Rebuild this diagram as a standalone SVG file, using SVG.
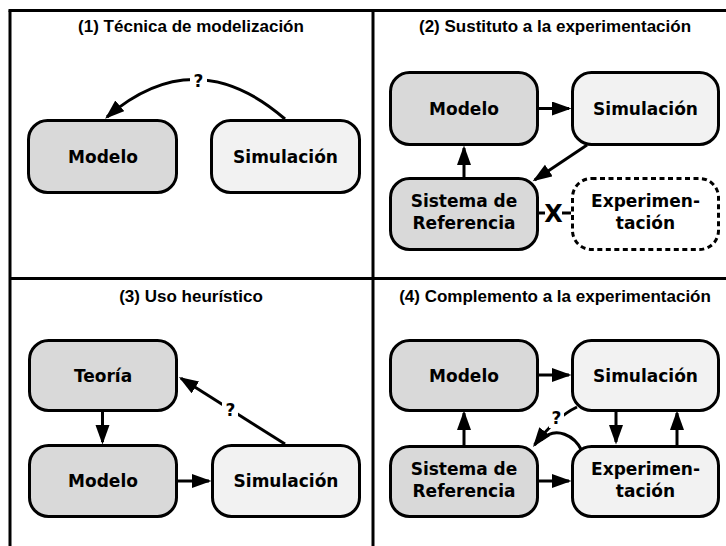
<svg xmlns="http://www.w3.org/2000/svg" width="726" height="546" viewBox="0 0 726 546">
<style>
.frame{stroke:#000;stroke-width:3;fill:none}
.title{font-family:"Liberation Sans",Arial,sans-serif;font-weight:bold;font-size:17px;text-anchor:middle;fill:#000}
.dark{fill:#d9d9d9;stroke:#000;stroke-width:3}
.light{fill:#f2f2f2;stroke:#000;stroke-width:3}
.dashed{fill:#fff;stroke:#000;stroke-width:3;stroke-dasharray:5 3.5}
.lbl{font-family:"DejaVu Sans",Verdana,sans-serif;font-weight:bold;font-size:17px;text-anchor:middle;fill:#000}
.q{font-family:"DejaVu Sans",Verdana,sans-serif;font-weight:bold;font-size:17px;text-anchor:middle;fill:#000}
.x{font-family:"DejaVu Sans",Verdana,sans-serif;font-weight:bold;font-size:24px;text-anchor:middle;fill:#000}
.c{stroke:#000;stroke-width:3;fill:none}
.ca{stroke:#000;stroke-width:3;fill:none;marker-end:url(#ah)}
.bg{fill:#fff;stroke:none}
</style>
<defs>
<marker id="ah" markerUnits="userSpaceOnUse" markerWidth="22" markerHeight="16" refX="17" refY="7" orient="auto">
<path d="M0,0 L19.5,7 L0,14 z" fill="#000"/>
</marker>
</defs>
<rect width="726" height="546" fill="#fff"/>
<g id="frame">
<line class="frame" x1="8.5" y1="10.5" x2="726" y2="10.5"/>
<line class="frame" x1="10" y1="10.5" x2="10" y2="546"/>
<line class="frame" x1="373" y1="10.5" x2="373" y2="546"/>
<line class="frame" x1="10" y1="278.5" x2="726" y2="278.5"/>
</g>
<g id="titles">
<text class="title" x="191" y="32">(1) Técnica de modelización</text>
<text class="title" x="555" y="32">(2) Sustituto a la experimentación</text>
<text class="title" x="191" y="302">(3) Uso heurístico</text>
<text class="title" x="555" y="302">(4) Complemento a la experimentación</text>
</g>
<g id="connectors">
<path class="ca" d="M285,119 Q195,41 107,117"/>
<rect class="bg" x="190" y="70" width="17" height="20"/>
<text class="q" x="198.5" y="86.5">?</text>
<path class="ca" d="M539,108.5 L569,108.5"/>
<path class="ca" d="M464,177 L464,148"/>
<path class="ca" d="M587,145 L534.7,179.9"/>
<path class="c" d="M539,213 L571,213"/>
<rect class="bg" x="545" y="200" width="17" height="24"/>
<text class="x" x="553.5" y="222">X</text>
<path class="ca" d="M102.5,411 L102.5,442"/>
<path class="ca" d="M178,481 L209,481"/>
<path class="ca" d="M285,444 L181,378.3"/>
<rect class="bg" x="222" y="400" width="16" height="20"/>
<text class="q" x="230.5" y="416">?</text>
<path class="ca" d="M539,375 L569,375"/>
<path class="ca" d="M464,445 L464,413"/>
<path class="ca" d="M616,411 L616,442"/>
<path class="ca" d="M677,445 L677,413"/>
<path class="ca" d="M539,481 L569,481"/>
<path class="ca" d="M577,407 Q556,417 534.5,445"/>
<path class="c" d="M582,451 C575,436 556,425 541,440"/>
<rect class="bg" x="549" y="409" width="15" height="19"/>
<text class="q" x="556.5" y="424">?</text>
</g>
<g id="p1-modelo">
<rect class="dark" x="28.5" y="120.5" width="148" height="72" rx="19"/>
<text class="lbl" x="103" y="162.5">Modelo</text>
</g>
<g id="p1-simulacion">
<rect class="light" x="211.5" y="120.5" width="148" height="72" rx="19"/>
<text class="lbl" x="285.5" y="162.5">Simulación</text>
</g>
<g id="p2-modelo">
<rect class="dark" x="390.5" y="72.5" width="147" height="72" rx="19"/>
<text class="lbl" x="464" y="114.5">Modelo</text>
</g>
<g id="p2-simulacion">
<rect class="light" x="572.5" y="72.5" width="146" height="72" rx="19"/>
<text class="lbl" x="645.5" y="114.5">Simulación</text>
</g>
<g id="p2-sistema">
<rect class="dark" x="390.5" y="178.5" width="147" height="71" rx="19"/>
<text class="lbl" x="464" y="207">Sistema de</text>
<text class="lbl" x="464" y="229">Referencia</text>
</g>
<g id="p2-experimentacion">
<rect class="dashed" x="572.5" y="178.5" width="146" height="71" rx="19"/>
<text class="lbl" x="645.5" y="207">Experimen-</text>
<text class="lbl" x="645.5" y="229">tación</text>
</g>
<g id="p3-teoria">
<rect class="dark" x="29.5" y="340.5" width="147" height="70" rx="19"/>
<text class="lbl" x="103" y="381.5">Teoría</text>
</g>
<g id="p3-modelo">
<rect class="dark" x="29.5" y="445.5" width="147" height="71" rx="19"/>
<text class="lbl" x="103" y="487">Modelo</text>
</g>
<g id="p3-simulacion">
<rect class="light" x="212.5" y="445.5" width="147" height="71" rx="19"/>
<text class="lbl" x="286" y="487">Simulación</text>
</g>
<g id="p4-modelo">
<rect class="dark" x="390.5" y="340.5" width="147" height="70" rx="19"/>
<text class="lbl" x="464" y="381.5">Modelo</text>
</g>
<g id="p4-simulacion">
<rect class="light" x="572.5" y="340.5" width="146" height="70" rx="19"/>
<text class="lbl" x="645.5" y="381.5">Simulación</text>
</g>
<g id="p4-sistema">
<rect class="dark" x="390.5" y="446.5" width="147" height="70" rx="19"/>
<text class="lbl" x="464" y="475">Sistema de</text>
<text class="lbl" x="464" y="497">Referencia</text>
</g>
<g id="p4-experimentacion">
<rect class="light" x="572.5" y="446.5" width="146" height="70" rx="19"/>
<text class="lbl" x="645.5" y="475">Experimen-</text>
<text class="lbl" x="645.5" y="497">tación</text>
</g>
</svg>
